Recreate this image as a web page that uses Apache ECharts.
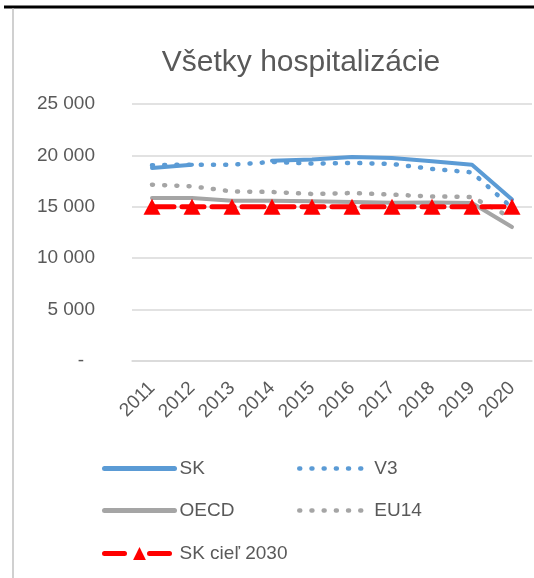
<!DOCTYPE html>
<html>
<head>
<meta charset="utf-8">
<script src="https://cdn.jsdelivr.net/npm/echarts@6/dist/echarts.min.js"></script>
<style>
  html, body { margin: 0; padding: 0; background: #fff; }
  #chart { width: 534px; height: 578px; }
</style>
</head>
<body>
<div id="chart"></div>
<script>
const years = ['2011', '2012', '2013', '2014', '2015', '2016', '2017', '2018', '2019', '2020'];
const sk = [18780, 19100, null, 19490, 19590, 19850, 19740, 19420, 19100, 15700];
const v3 = [19050, 19100, 19100, 19360, 19200, 19270, 19170, 18680, 18350, 14900];
const oecd = [15850, 15850, 15590, 15590, 15530, 15460, 15400, 15430, 15370, 13030];
const eu14 = [17150, 16990, 16500, 16440, 16250, 16340, 16180, 16010, 15950, 13900];
const skTarget = [15000, 15000, 15000, 15000, 15000, 15000, 15000, 15000, 15000, 15000];

const FONT = '"Liberation Sans", Arial, sans-serif';
const TXT = '#595959';
const BLUE = '#5B9BD5';
const GRAY = '#A5A5A5';
const RED = '#FF0000';

const DOTS = [1, 11.2];

const chart = echarts.init(document.getElementById('chart'));

const fmt = (v) => {
  if (v === 0) return '{d|-}';
  return String(v).replace(/\B(?=(\d{3})+(?!\d))/g, ' ');
};

// one legend per item so each sits where it does in the picture
const leg = (item, left, top) => ({
  data: [item],
  left: left,
  top: top,
  padding: 0,
  itemWidth: 70,
  itemHeight: 16,
  itemGap: 0,
  textStyle: { color: TXT, fontSize: 19, fontFamily: FONT },
  selectedMode: false
});
const noSym = { opacity: 0 };

chart.setOption({
  animation: false,
  backgroundColor: '#fff',
  title: {
    text: 'Všetky hospitalizácie',
    left: 296,
    textAlign: 'center',
    top: 43,
    textStyle: { color: TXT, fontSize: 30, fontWeight: 'normal', fontFamily: FONT }
  },
  legend: [
    leg({ name: 'SK', itemStyle: noSym, lineStyle: { width: 5, cap: 'round' } }, 102, 459),
    leg({ name: 'V3', itemStyle: noSym, lineStyle: { width: 4.5, type: DOTS, cap: 'round' } }, 297, 459),
    leg({ name: 'OECD', itemStyle: noSym, lineStyle: { width: 5, cap: 'round' } }, 102, 501),
    leg({ name: 'EU14', itemStyle: noSym, lineStyle: { width: 4.5, type: DOTS, cap: 'round' } }, 297, 501),
    leg({ name: 'SK cieľ 2030', lineStyle: { width: 5, type: [20, 25], cap: 'round' } }, 102, 544)
  ],
  graphic: {
    elements: [
      { id: 'topRule', type: 'rect', zlevel: 1, z: 100,
        shape: { x: 4, y: 5.5, width: 530, height: 3 }, style: { fill: '#000000' } },
      { id: 'leftRule', type: 'rect', zlevel: 1, z: 100,
        shape: { x: 12, y: 8.5, width: 2, height: 570 }, style: { fill: '#d0d0d0' } }
    ]
  },
  grid: { left: 132, right: 2, top: 104, bottom: 217 },
  xAxis: {
    type: 'category',
    data: years,
    boundaryGap: true,
    axisLine: { lineStyle: { color: '#d9d9d9', width: 1.5 } },
    axisTick: { show: false },
    axisLabel: {
      rotate: 45,
      margin: 24,
      interval: 0,
      color: TXT,
      fontSize: 19,
      fontFamily: FONT
    }
  },
  yAxis: {
    type: 'value',
    min: 0,
    max: 25000,
    interval: 5000,
    axisLine: { show: false },
    axisTick: { show: false },
    splitLine: { lineStyle: { color: '#d9d9d9', width: 1.5 } },
    axisLabel: {
      margin: 37,
      color: TXT,
      fontSize: 19,
      fontFamily: FONT,
      formatter: fmt,
      rich: { d: { color: TXT, fontSize: 19, fontFamily: FONT, padding: [0, 11, 0, 0] } }
    }
  },
  series: [
    {
      name: 'SK', type: 'line', data: sk, connectNulls: false,
      symbol: 'none', z: 2,
      lineStyle: { color: BLUE, width: 4, cap: 'round', join: 'round' },
      itemStyle: { color: BLUE }
    },
    {
      name: 'OECD', type: 'line', data: oecd,
      symbol: 'none', z: 2,
      lineStyle: { color: GRAY, width: 4, cap: 'round', join: 'round' },
      itemStyle: { color: GRAY }
    },
    {
      name: 'EU14', type: 'line', data: eu14,
      symbol: 'none', z: 3,
      lineStyle: { color: GRAY, width: 4.5, type: DOTS, cap: 'round' },
      itemStyle: { color: GRAY }
    },
    {
      name: 'V3', type: 'line', data: v3,
      symbol: 'none', z: 3,
      lineStyle: { color: BLUE, width: 4.5, type: DOTS, cap: 'round' },
      itemStyle: { color: BLUE }
    },
    {
      name: 'SK cieľ 2030', type: 'line', data: skTarget,
      symbol: 'triangle', symbolSize: [17, 16], showSymbol: true, z: 4,
      lineStyle: { color: RED, width: 5, type: [22, 8], cap: 'round' },
      itemStyle: { color: RED }
    }
  ]
});
</script>
</body>
</html>
